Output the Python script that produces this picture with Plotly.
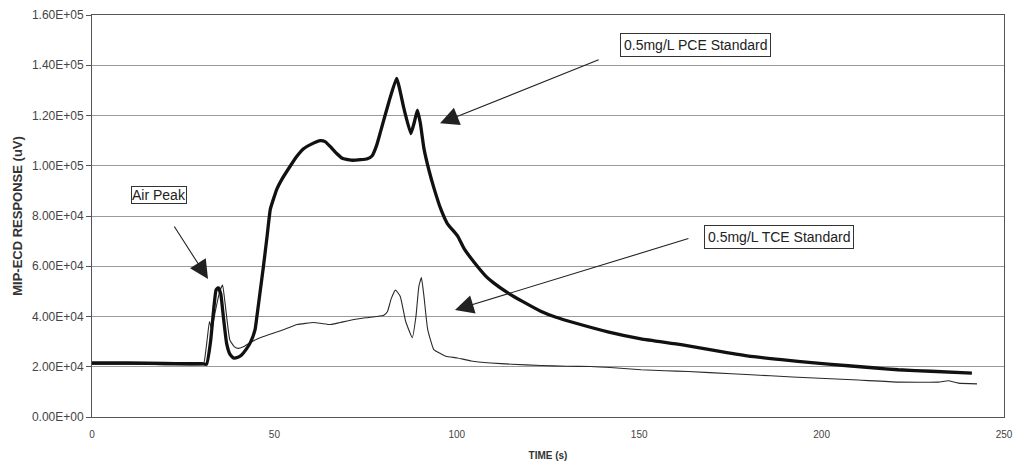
import plotly.graph_objects as go

# ---- Data ----
pce_time = [0, 10, 20, 30, 31.4, 32.5, 33.3, 34.0, 34.6, 35.3, 36.0, 36.9, 37.8, 38.8, 40, 41,
            42.3, 43.4, 44.7, 45.2, 46.1, 47, 48, 48.9, 50.7, 52, 54.4, 56, 58, 60, 62.6, 64,
            65.4, 67, 68.6, 71, 73.6, 75.5, 76.8, 78, 79.1, 81.4, 83.5, 85.5, 87.4, 88.3, 89.2,
            90, 91, 92.4, 93.8, 95.6, 97.4, 100.2, 102, 104.8, 108, 110, 113.9, 118, 123, 127,
            132.2, 141.4, 150.5, 161.5, 172.5, 180, 189, 198, 207.3, 214, 221, 230, 241.2]
pce_resp = [21500, 21500, 21300, 21200, 21000, 30000, 42000, 50500, 51500, 49000, 40000, 29300,
            25000, 23500, 23800, 24700, 27000, 29600, 34800, 40000, 50000, 60000, 72000, 82800,
            90800, 94500, 100000, 103500, 106800, 108500, 110000, 109500, 107500, 105000, 103000,
            102200, 102400, 102800, 104000, 108000, 113600, 125500, 134800, 122800, 112800,
            117000, 122100, 117000, 106800, 98000, 90800, 82800, 77000, 72100, 67000, 61500,
            56000, 53500, 49500, 46000, 42100, 39800, 37500, 33900, 31100, 28800, 26000, 24200,
            22800, 21500, 20400, 19600, 18800, 18200, 17500]

tce_time = [0, 10, 20, 30, 30.6, 31.5, 32.2, 32.8, 33.8, 35, 35.8, 36.5, 37.8, 39, 40.1, 41.5,
            43.4, 45, 47, 50, 53, 56.2, 60.8, 63, 65.4, 68, 71.8, 75, 78, 80, 81, 82, 83.2, 84.5,
            86, 87.8, 88.8, 89.6, 90.3, 91, 92, 93.7, 95.6, 97, 100.2, 104, 109.3, 115, 123, 130,
            136.8, 143, 150.5, 157, 163.4, 175.3, 186, 198, 210, 221, 232, 234.7, 237.5, 242.6]
tce_resp = [21000, 21000, 20800, 20800, 21000, 30000, 38000, 35000, 42000, 50000, 52500, 45000,
            30600, 28000, 27300, 28000, 29600, 30800, 32000, 33500, 35000, 36800, 37600, 37200,
            36800, 37600, 38800, 39500, 40000, 40500, 42000, 47000, 50500, 48000, 38000, 31600,
            40000, 52000, 55500, 48000, 35000, 26800, 25200, 24200, 23500, 22300, 21500, 21000,
            20500, 20200, 20100, 19600, 18800, 18400, 18100, 17200, 16400, 15500, 14700, 13900,
            13900, 14400, 13500, 13200]

y_tick_vals = [0, 20000, 40000, 60000, 80000, 100000, 120000, 140000, 160000]
y_tick_text = ["0.00E+00", "2.00E+04", "4.00E+04", "6.00E+04", "8.00E+04",
               "1.00E+05", "1.20E+05", "1.40E+05", "1.60E+05"]
x_tick_vals = [0, 50, 100, 150, 200, 250]

FONT = "Liberation Sans, Arial, sans-serif"

fig = go.Figure()
fig.add_trace(go.Scatter(x=tce_time, y=tce_resp, mode="lines",
                         line=dict(color="#2a2a2a", width=1.1, shape="spline", smoothing=0.4),
                         name="0.5mg/L TCE Standard"))
fig.add_trace(go.Scatter(x=pce_time, y=pce_resp, mode="lines",
                         line=dict(color="#111111", width=3.3, shape="spline", smoothing=0.4),
                         name="0.5mg/L PCE Standard"))

# arrows
arrows = [
    dict(x=31.8, y=54900, ax=22.3, ay=76400),
    dict(x=95.4, y=116900, ax=139.3, ay=142400),
    dict(x=99.5, y=42600, ax=163.9, ay=71200),
]
for a in arrows:
    fig.add_annotation(x=a["x"], y=a["y"], ax=a["ax"], ay=a["ay"], xref="x", yref="y",
                       axref="x", ayref="y", text="", showarrow=True, arrowhead=2,
                       arrowsize=3.4, arrowwidth=1.1, arrowcolor="#222222")

# labelled boxes
boxes = [
    dict(text="Air Peak", x=18.4, y=88400, pad=0),
    dict(text="0.5mg/L PCE Standard", x=165.3, y=148000, pad=3),
    dict(text="0.5mg/L TCE Standard", x=188.3, y=71600, pad=3),
]
for b in boxes:
    fig.add_annotation(x=b["x"], y=b["y"], xref="x", yref="y", text=b["text"], showarrow=False,
                       font=dict(family=FONT, size=14, color="#222222"),
                       bordercolor="#333333", borderwidth=1, borderpad=b["pad"],
                       bgcolor="white")

fig.update_layout(
    width=1015, height=465,
    margin=dict(l=92, r=11, t=15, b=48),
    paper_bgcolor="white", plot_bgcolor="white",
    showlegend=False,
    font=dict(family=FONT, color="#333333"),
)
fig.update_xaxes(range=[0, 250], tickvals=x_tick_vals, showgrid=False, zeroline=False,
                 automargin=False,
                 showline=True, linecolor="#555555", linewidth=1, mirror=True,
                 ticks="", ticklabelstandoff=8, tickfont=dict(size=10, family=FONT, color="#444444"),
                 title=dict(text="<b>TIME (s)</b>", font=dict(size=10, family=FONT, color="#333333"),
                            standoff=12))
fig.update_yaxes(range=[0, 160000], tickvals=y_tick_vals, ticktext=y_tick_text,
                 automargin=False,
                 showgrid=True, gridcolor="#9a9a9a", gridwidth=1, zeroline=False,
                 showline=True, linecolor="#555555", linewidth=1, mirror=True,
                 ticks="outside", ticklen=5, tickcolor="#555555",
                 tickfont=dict(size=12, family=FONT, color="#444444"),
                 title=dict(text="<b>MIP-ECD RESPONSE (uV)</b>",
                            font=dict(size=13, family=FONT, color="#333333"), standoff=6))

fig.write_html("out.html", config={"displayModeBar": False},
               post_script="document.body.style.margin='0';document.body.style.overflow='hidden';")
